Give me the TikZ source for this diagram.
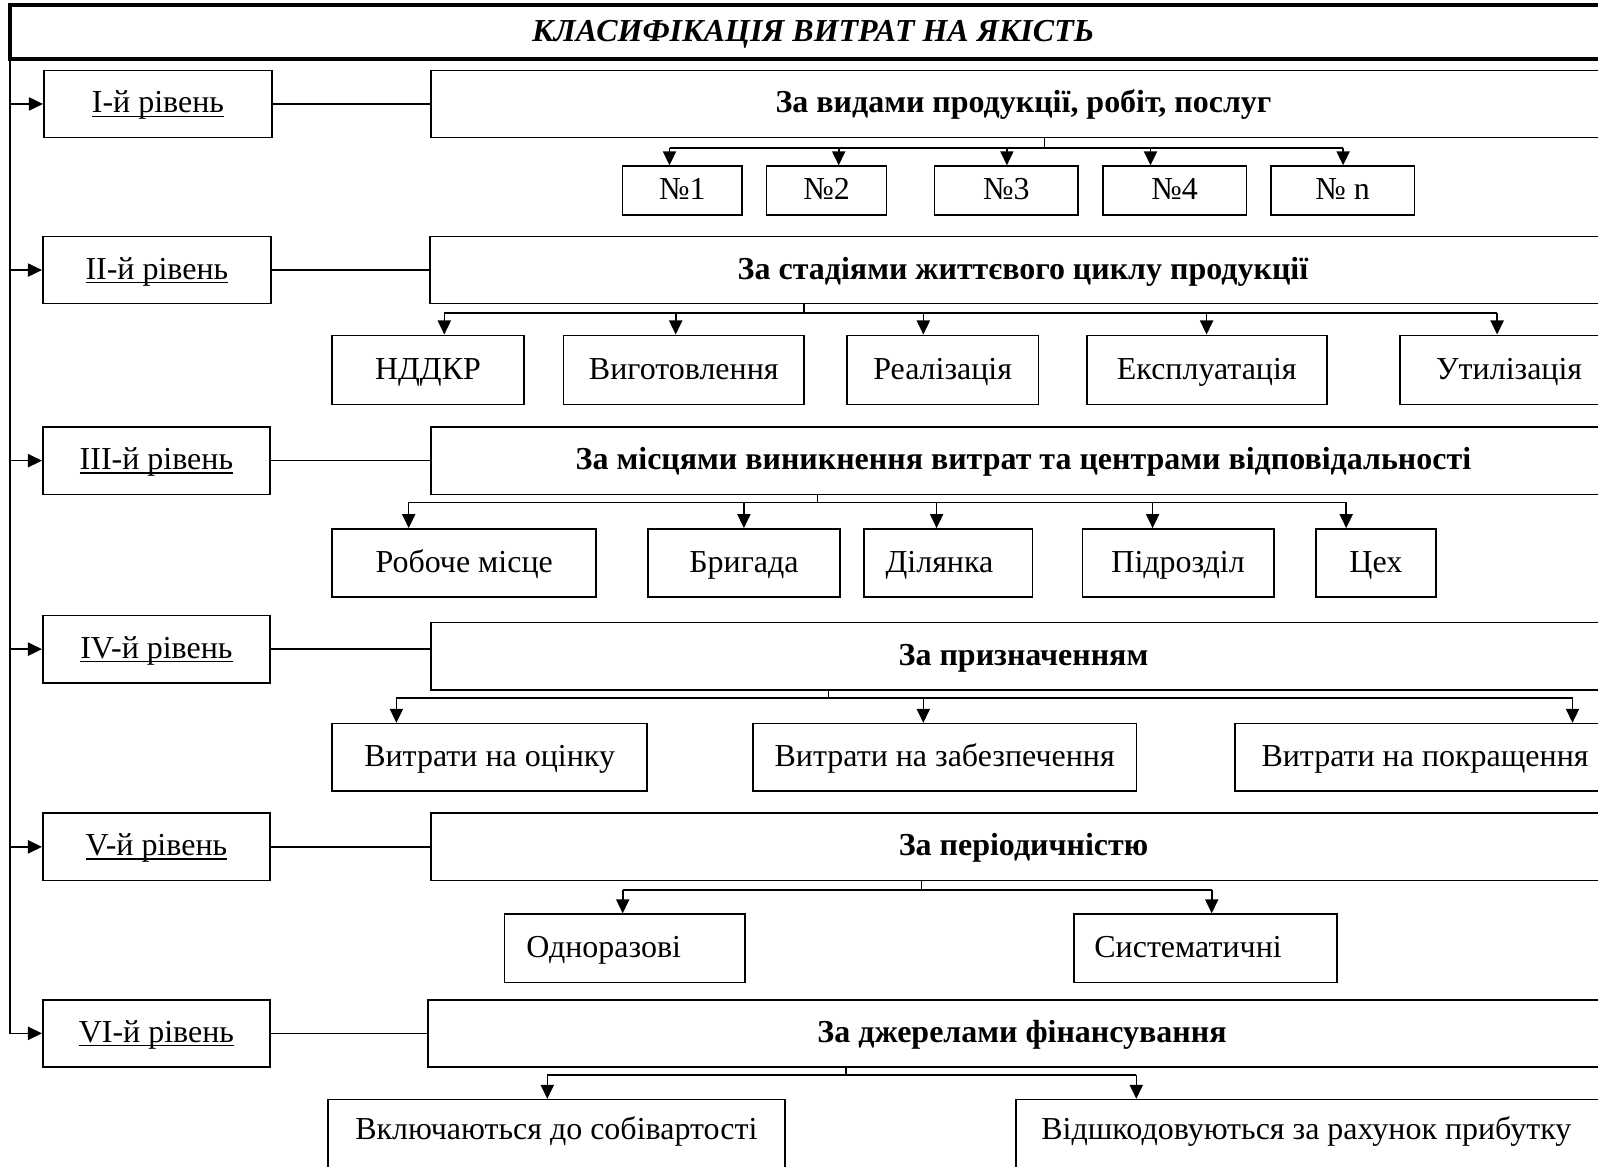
\documentclass[tikz,border=0pt]{standalone}
\usepackage{fontspec}
\setmainfont{Liberation Serif}
\usetikzlibrary{arrows.meta}
\newcommand\mkbox[7]{%
  \pgfmathsetmacro\mbcx{(#3+#5)/2}%
  \pgfmathsetmacro\mbcy{(#4+#6)/2}%
  \pgfmathsetmacro\mbw{(#5-#3)*0.02}%
  \pgfmathsetmacro\mbh{(#6-#4)*0.02}%
  \node[#1,minimum width=\mbw cm,minimum height=\mbh cm] (#2) at (\mbcx,\mbcy) {#7};}
\newcommand\ulx[1]{\setbox0\hbox{#1}\rlap{\rule[-2.2pt]{\wd0}{0.75pt}}\box0}
\begin{document}
\begin{tikzpicture}[x=0.02cm,y=-0.02cm,
  box/.style={draw,line width=0.9pt,inner sep=0pt,align=center,text height=14.8pt,text depth=4.5pt,font=\fontsize{18.2}{21}\selectfont},
  lvl/.style={box},
  cat/.style={box,font=\fontsize{18.2}{21}\selectfont\bfseries},
  sub/.style={box},
  low/.style={box,text depth=15pt},
  ttl/.style={draw,line width=2.4pt,inner sep=0pt,text height=14.8pt,text depth=4.5pt,font=\fontsize{18.2}{21}\selectfont\bfseries\itshape},
  ln/.style={line width=0.9pt},
  arr/.style={line width=0.9pt,-{Triangle[length=8pt,width=7.5pt]}}]
\useasboundingbox (0,0) rectangle (1598,1166);
\clip (0,0) rectangle (1598,1166);
\fill[white] (0,0) rectangle (1598,1166);

% title
\mkbox{ttl}{title}{10.2}{5.1}{1616}{59.1}{КЛАСИФІКАЦІЯ ВИТРАТ НА ЯКІСТЬ}

% level boxes
\mkbox{lvl}{l1}{43.8}{70.3}{272.1}{137.6}{\ulx{I-й рівень}}
\mkbox{lvl}{l2}{42.8}{236.4}{271}{303.7}{\ulx{II-й рівень}}
\mkbox{lvl}{l3}{42.8}{427}{270}{494.3}{\ulx{III-й рівень}}
\mkbox{lvl}{l4}{42.8}{615.5}{270}{682.8}{\ulx{IV-й рівень}}
\mkbox{lvl}{l5}{42.8}{813.2}{270}{880.5}{\ulx{V-й рівень}}
\mkbox{lvl}{l6}{42.8}{999.7}{270}{1067}{\ulx{VI-й рівень}}

% category boxes
\mkbox{cat}{c1}{431}{70.3}{1616}{137.6}{За видами продукції, робіт, послуг}
\mkbox{cat}{c2}{430}{236.4}{1616}{303.7}{За стадіями життєвого циклу продукції}
\mkbox{cat}{c3}{431}{427}{1616}{494.3}{За місцями виникнення витрат та центрами відповідальності}
\mkbox{cat}{c4}{431}{622.7}{1616}{690}{За призначенням}
\mkbox{cat}{c5}{431}{813.2}{1616}{880.5}{За періодичністю}
\mkbox{cat}{c6}{428}{999.7}{1616}{1067}{За джерелами фінансування}

% left spine
\coordinate (top) at (10.2,59.1);
\draw[arr] (top) |- (l6.west);
\foreach \n in {l1,l2,l3,l4,l5} \draw[arr] (\n.west -| top) -- (\n.west);

% level -> category
\foreach \i in {1,...,6} \draw[ln] (l\i.east) -- (l\i.east -| c\i.west);

% level 1 subs
\mkbox{sub}{s11}{622.7}{166.1}{741.9}{215}{№1}
\mkbox{sub}{s12}{766.4}{166.1}{886.6}{215}{№2}
\mkbox{sub}{s13}{934.5}{166.1}{1078.2}{215}{№3}
\mkbox{sub}{s14}{1103}{166.1}{1246.4}{215}{№4}
\mkbox{sub}{s15}{1270.8}{166.1}{1414.5}{215}{№ n}
\coordinate (k1) at (1044.6,147.8);
\draw[ln] (c1.south -| k1) -- (k1);
\foreach \x/\n in {669.5/s11,838.7/s12,1006.9/s13,1150.5/s14,1343.1/s15}
  \coordinate (j\n) at (\x,147.8);
\draw[ln] (js11) -- (js15);
\foreach \n in {s11,s12,s13,s14,s15} \draw[arr] (j\n) -- (j\n |- \n.north);

% level 2 subs
\mkbox{sub}{s21}{332.2}{335.3}{523.8}{404.6}{НДДКР}
\mkbox{sub}{s22}{563.6}{335.3}{804}{404.6}{Виготовлення}
\mkbox{sub}{s23}{846.9}{335.3}{1038.5}{404.6}{Реалізація}
\mkbox{sub}{s24}{1086.7}{335.3}{1326.9}{404.6}{Експлуатація}
\mkbox{sub}{s25}{1400.2}{335.3}{1618}{404.6}{Утилізація}
\coordinate (k2) at (804,312.9);
\draw[ln] (c2.south -| k2) -- (k2);
\foreach \x/\n in {444.3/s21,675.7/s22,923.3/s23,1206.6/s24,1497.1/s25}
  \coordinate (j\n) at (\x,312.9);
\draw[ln] (js21) -- (js25);
\foreach \n in {s21,s22,s23,s24,s25} \draw[arr] (j\n) -- (j\n |- \n.north);

% level 3 subs
\mkbox{sub}{s31}{332.2}{528.9}{596.2}{597.2}{Робоче місце}
\mkbox{sub}{s32}{648.2}{528.9}{839.7}{597.2}{Бригада}
\mkbox{sub}{s33}{864.2}{528.9}{1032.3}{597.2}{Ділянка\hspace*{10pt}}
\mkbox{sub}{s34}{1082.3}{528.9}{1273.9}{597.2}{Підрозділ}
\mkbox{sub}{s35}{1315.7}{528.9}{1436}{597.2}{Цех}
\coordinate (k3) at (817.3,502.4);
\draw[ln] (c3.south -| k3) -- (k3);
\foreach \x/\n in {408.7/s31,743.9/s32,936.6/s33,1152.6/s34,1346.2/s35}
  \coordinate (j\n) at (\x,502.4);
\draw[ln] (js31) -- (js35);
\foreach \n in {s31,s32,s33,s34,s35} \draw[arr] (j\n) -- (j\n |- \n.north);

% level 4 subs
\mkbox{sub}{s41}{332.2}{723.6}{647.1}{790.8}{Витрати на оцінку}
\mkbox{sub}{s42}{753.1}{723.6}{1136.3}{790.8}{Витрати на забезпечення}
\mkbox{sub}{s43}{1235.1}{723.6}{1615}{790.8}{Витрати на покращення}
\coordinate (k4) at (828.5,698.1);
\draw[ln] (c4.south -| k4) -- (k4);
\foreach \x/\n in {396.4/s41,923.3/s42,1572.5/s43}
  \coordinate (j\n) at (\x,698.1);
\draw[ln] (js41) -- (js43);
\foreach \n in {s41,s42,s43} \draw[arr] (j\n) -- (j\n |- \n.north);

% level 5 subs
\mkbox{sub}{s51}{504.5}{914.1}{745}{982.4}{Одноразові\hspace*{24pt}}
\mkbox{sub}{s52}{1074.1}{914.1}{1337.1}{982.4}{Систематичні\hspace*{20pt}}
\coordinate (k5) at (921.3,889.7);
\draw[ln] (c5.south -| k5) -- (k5);
\foreach \x/\n in {622.7/s51,1211.7/s52}
  \coordinate (j\n) at (\x,889.7);
\draw[ln] (js51) -- (js52);
\foreach \n in {s51,s52} \draw[arr] (j\n) -- (j\n |- \n.north);

% level 6 subs
\mkbox{low}{s61}{328.1}{1099.6}{784.7}{1180}{Включаються до собівартості}
\mkbox{low}{s62}{1016}{1099.6}{1616}{1180}{Відшкодовуються за рахунок прибутку\hspace*{11pt}}
\coordinate (k6) at (845.9,1075.2);
\draw[ln] (c6.south -| k6) -- (k6);
\foreach \x/\n in {547.3/s61,1136.3/s62}
  \coordinate (j\n) at (\x,1075.2);
\draw[ln] (js61) -- (js62);
\foreach \n in {s61,s62} \draw[arr] (j\n) -- (j\n |- \n.north);
\end{tikzpicture}
\end{document}
